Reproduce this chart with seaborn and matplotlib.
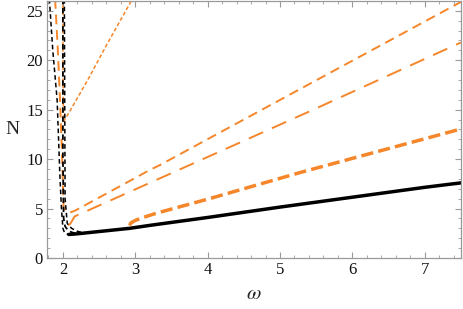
import numpy as np
import pandas as pd
import seaborn as sns
import matplotlib
matplotlib.use("Agg")
from matplotlib import pyplot as plt
from matplotlib.ticker import MultipleLocator

sns.set_theme(style="ticks")
plt.rcParams['font.family'] = ['Liberation Serif', 'DejaVu Serif']
plt.rcParams['mathtext.fontset'] = 'stix'

ORANGE = '#F5862A'

# black solid branch
black_solid_w = [2.08, 2.2, 2.5, 2.92, 3.2, 4.0, 5.0, 5.4, 6.0, 7.0, 7.5]
black_solid_N = [2.38, 2.45, 2.68, 3.0, 3.3, 4.1, 5.15, 5.55, 6.15, 7.15, 7.6]

# black dashed branches near omega = 2
black_a_w = [1.81, 1.86, 1.92, 1.96, 1.98, 2.0, 2.02, 2.06, 2.1]
black_a_N = [26.5, 21.0, 16.0, 8.0, 5.0, 3.0, 2.6, 2.42, 2.38]
black_b_w = [2.0, 2.0, 2.01, 2.03, 2.07, 2.12, 2.18]
black_b_N = [26.5, 10.0, 4.0, 3.2, 2.8, 2.6, 2.5]
black_c_w = [2.02, 2.03, 2.06, 2.12, 2.2, 2.26]
black_c_N = [26.5, 6.0, 3.5, 3.0, 2.7, 2.6]

# orange branches
orange1_w = [2.0, 2.0, 2.01, 2.1, 2.35, 2.6, 2.96, 3.02]
orange1_N = [26.5, 18.0, 13.8, 14.9, 18.1, 21.5, 26.2, 27.0]
orange2_w = [1.89, 1.93, 1.96, 1.99, 2.01, 2.05, 2.1, 2.17, 3.2, 3.34, 5.28, 7.5]
orange2_N = [26.5, 21.0, 16.0, 10.0, 5.0, 4.7, 4.6, 4.8, 8.9, 9.4, 17.1, 25.9]
orange3_w = [2.07, 2.1, 2.13, 2.16, 3.2, 5.4, 7.5]
orange3_N = [3.3, 3.45, 3.8, 4.2, 7.6, 14.8, 21.8]
orange4_w = [2.92, 2.94, 3.0, 3.1, 3.3, 4.0, 5.28, 7.5]
orange4_N = [3.3, 3.55, 3.8, 4.08, 4.55, 5.95, 8.65, 13.05]


def curve(ax, w, n, color, lw, ls):
    df = pd.DataFrame({'w': w, 'N': n})
    sns.lineplot(data=df, x='w', y='N', sort=False, estimator=None, ax=ax,
                 color=color, lw=lw, linestyle=ls)


fig = plt.figure(figsize=(4.63, 3.09), dpi=100)
ax = fig.add_axes([0.1015, 0.165, 0.894, 0.832])

curve(ax, orange1_w, orange1_N, ORANGE, 1.1, (0, (2.5, 1.5)))
curve(ax, orange2_w, orange2_N, ORANGE, 1.4, (0, (5, 3)))
curve(ax, orange3_w, orange3_N, ORANGE, 1.4, (0, (8, 5)))
curve(ax, orange4_w, orange4_N, ORANGE, 2.5, (0, (3.5, 1.5)))
curve(ax, black_a_w, black_a_N, 'black', 1.1, (0, (3, 2)))
curve(ax, black_b_w, black_b_N, 'black', 1.3, (0, (3, 2)))
curve(ax, black_c_w, black_c_N, 'black', 1.1, (0, (3, 2)))
curve(ax, black_solid_w, black_solid_N, 'black', 2.5, '-')

ax.set_xlim(1.78, 7.5)
ax.set_ylim(0, 26)
ax.xaxis.set_major_locator(MultipleLocator(1))
ax.xaxis.set_minor_locator(MultipleLocator(0.2))
ax.yaxis.set_major_locator(MultipleLocator(5))
ax.yaxis.set_minor_locator(MultipleLocator(1))
ax.tick_params(which='both', direction='in', top=True, right=True,
               color='#9a9a9a', labelsize=12, labelcolor='#111111', pad=3)
ax.tick_params(which='major', length=4, width=0.8)
ax.tick_params(which='minor', length=2, width=0.6)
for s in ax.spines.values():
    s.set_color('#9a9a9a')
    s.set_linewidth(0.9)

ax.set_xlabel(r'$\omega$', fontsize=15, labelpad=5)
ax.set_ylabel('N', fontsize=14, rotation=0, labelpad=10, va='center')

fig.savefig('out.png', dpi=100)
